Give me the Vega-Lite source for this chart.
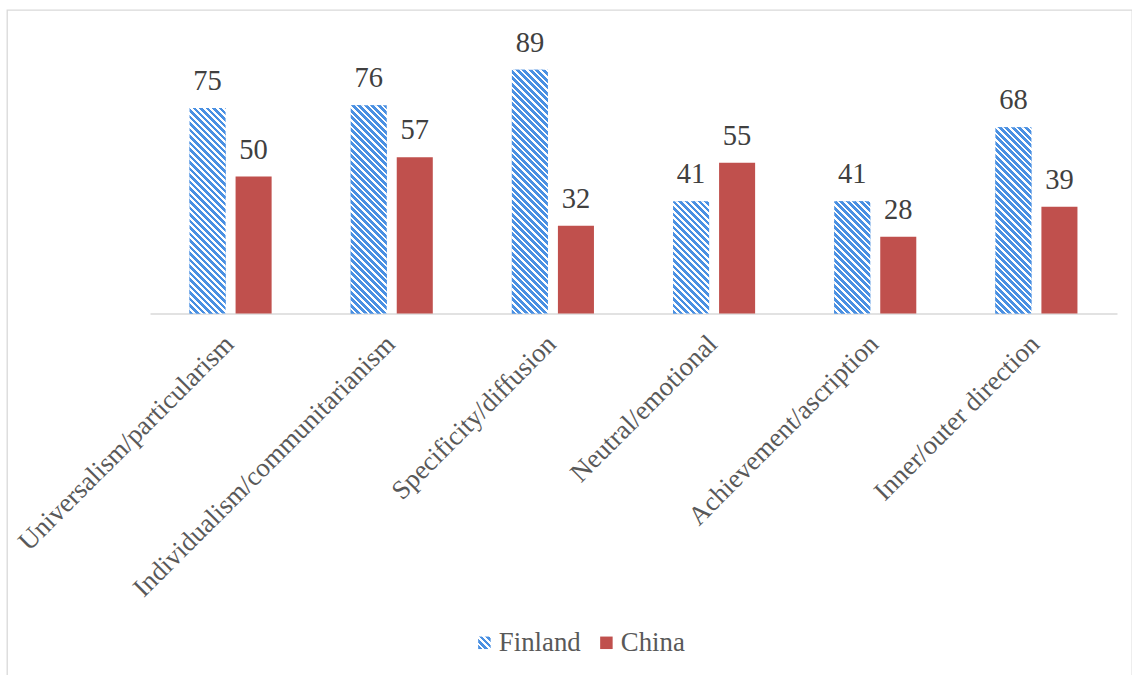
{
  "$schema": "https://vega.github.io/schema/vega-lite/v6.json",
  "width": 1125,
  "height": 666,
  "autosize": {"type": "none"},
  "padding": {"left": 7, "top": 10, "right": 0, "bottom": 0},
  "background": "white",
  "params": [
    {"name": "hatch", "value": [
      {"offset":0,"color":"#4a90e2"},{"offset":0.012,"color":"#4a90e2"},{"offset":0.012,"color":"#fff"},{"offset":0.02,"color":"#fff"},
      {"offset":0.02,"color":"#4a90e2"},{"offset":0.032,"color":"#4a90e2"},{"offset":0.032,"color":"#fff"},{"offset":0.04,"color":"#fff"},
      {"offset":0.04,"color":"#4a90e2"},{"offset":0.052,"color":"#4a90e2"},{"offset":0.052,"color":"#fff"},{"offset":0.06,"color":"#fff"},
      {"offset":0.06,"color":"#4a90e2"},{"offset":0.072,"color":"#4a90e2"},{"offset":0.072,"color":"#fff"},{"offset":0.08,"color":"#fff"},
      {"offset":0.08,"color":"#4a90e2"},{"offset":0.092,"color":"#4a90e2"},{"offset":0.092,"color":"#fff"},{"offset":0.1,"color":"#fff"},
      {"offset":0.1,"color":"#4a90e2"},{"offset":0.112,"color":"#4a90e2"},{"offset":0.112,"color":"#fff"},{"offset":0.12,"color":"#fff"},
      {"offset":0.12,"color":"#4a90e2"},{"offset":0.132,"color":"#4a90e2"},{"offset":0.132,"color":"#fff"},{"offset":0.14,"color":"#fff"},
      {"offset":0.14,"color":"#4a90e2"},{"offset":0.152,"color":"#4a90e2"},{"offset":0.152,"color":"#fff"},{"offset":0.16,"color":"#fff"},
      {"offset":0.16,"color":"#4a90e2"},{"offset":0.172,"color":"#4a90e2"},{"offset":0.172,"color":"#fff"},{"offset":0.18,"color":"#fff"},
      {"offset":0.18,"color":"#4a90e2"},{"offset":0.192,"color":"#4a90e2"},{"offset":0.192,"color":"#fff"},{"offset":0.2,"color":"#fff"},
      {"offset":0.2,"color":"#4a90e2"},{"offset":0.212,"color":"#4a90e2"},{"offset":0.212,"color":"#fff"},{"offset":0.22,"color":"#fff"},
      {"offset":0.22,"color":"#4a90e2"},{"offset":0.232,"color":"#4a90e2"},{"offset":0.232,"color":"#fff"},{"offset":0.24,"color":"#fff"},
      {"offset":0.24,"color":"#4a90e2"},{"offset":0.252,"color":"#4a90e2"},{"offset":0.252,"color":"#fff"},{"offset":0.26,"color":"#fff"},
      {"offset":0.26,"color":"#4a90e2"},{"offset":0.272,"color":"#4a90e2"},{"offset":0.272,"color":"#fff"},{"offset":0.28,"color":"#fff"},
      {"offset":0.28,"color":"#4a90e2"},{"offset":0.292,"color":"#4a90e2"},{"offset":0.292,"color":"#fff"},{"offset":0.3,"color":"#fff"},
      {"offset":0.3,"color":"#4a90e2"},{"offset":0.312,"color":"#4a90e2"},{"offset":0.312,"color":"#fff"},{"offset":0.32,"color":"#fff"},
      {"offset":0.32,"color":"#4a90e2"},{"offset":0.332,"color":"#4a90e2"},{"offset":0.332,"color":"#fff"},{"offset":0.34,"color":"#fff"},
      {"offset":0.34,"color":"#4a90e2"},{"offset":0.352,"color":"#4a90e2"},{"offset":0.352,"color":"#fff"},{"offset":0.36,"color":"#fff"},
      {"offset":0.36,"color":"#4a90e2"},{"offset":0.372,"color":"#4a90e2"},{"offset":0.372,"color":"#fff"},{"offset":0.38,"color":"#fff"},
      {"offset":0.38,"color":"#4a90e2"},{"offset":0.392,"color":"#4a90e2"},{"offset":0.392,"color":"#fff"},{"offset":0.4,"color":"#fff"},
      {"offset":0.4,"color":"#4a90e2"},{"offset":0.412,"color":"#4a90e2"},{"offset":0.412,"color":"#fff"},{"offset":0.42,"color":"#fff"},
      {"offset":0.42,"color":"#4a90e2"},{"offset":0.432,"color":"#4a90e2"},{"offset":0.432,"color":"#fff"},{"offset":0.44,"color":"#fff"},
      {"offset":0.44,"color":"#4a90e2"},{"offset":0.452,"color":"#4a90e2"},{"offset":0.452,"color":"#fff"},{"offset":0.46,"color":"#fff"},
      {"offset":0.46,"color":"#4a90e2"},{"offset":0.472,"color":"#4a90e2"},{"offset":0.472,"color":"#fff"},{"offset":0.48,"color":"#fff"},
      {"offset":0.48,"color":"#4a90e2"},{"offset":0.492,"color":"#4a90e2"},{"offset":0.492,"color":"#fff"},{"offset":0.5,"color":"#fff"},
      {"offset":0.5,"color":"#4a90e2"},{"offset":0.512,"color":"#4a90e2"},{"offset":0.512,"color":"#fff"},{"offset":0.52,"color":"#fff"},
      {"offset":0.52,"color":"#4a90e2"},{"offset":0.532,"color":"#4a90e2"},{"offset":0.532,"color":"#fff"},{"offset":0.54,"color":"#fff"},
      {"offset":0.54,"color":"#4a90e2"},{"offset":0.552,"color":"#4a90e2"},{"offset":0.552,"color":"#fff"},{"offset":0.56,"color":"#fff"},
      {"offset":0.56,"color":"#4a90e2"},{"offset":0.572,"color":"#4a90e2"},{"offset":0.572,"color":"#fff"},{"offset":0.58,"color":"#fff"},
      {"offset":0.58,"color":"#4a90e2"},{"offset":0.592,"color":"#4a90e2"},{"offset":0.592,"color":"#fff"},{"offset":0.6,"color":"#fff"},
      {"offset":0.6,"color":"#4a90e2"},{"offset":0.612,"color":"#4a90e2"},{"offset":0.612,"color":"#fff"},{"offset":0.62,"color":"#fff"},
      {"offset":0.62,"color":"#4a90e2"},{"offset":0.632,"color":"#4a90e2"},{"offset":0.632,"color":"#fff"},{"offset":0.64,"color":"#fff"},
      {"offset":0.64,"color":"#4a90e2"},{"offset":0.652,"color":"#4a90e2"},{"offset":0.652,"color":"#fff"},{"offset":0.66,"color":"#fff"},
      {"offset":0.66,"color":"#4a90e2"},{"offset":0.672,"color":"#4a90e2"},{"offset":0.672,"color":"#fff"},{"offset":0.68,"color":"#fff"},
      {"offset":0.68,"color":"#4a90e2"},{"offset":0.692,"color":"#4a90e2"},{"offset":0.692,"color":"#fff"},{"offset":0.7,"color":"#fff"},
      {"offset":0.7,"color":"#4a90e2"},{"offset":0.712,"color":"#4a90e2"},{"offset":0.712,"color":"#fff"},{"offset":0.72,"color":"#fff"},
      {"offset":0.72,"color":"#4a90e2"},{"offset":0.732,"color":"#4a90e2"},{"offset":0.732,"color":"#fff"},{"offset":0.74,"color":"#fff"},
      {"offset":0.74,"color":"#4a90e2"},{"offset":0.752,"color":"#4a90e2"},{"offset":0.752,"color":"#fff"},{"offset":0.76,"color":"#fff"},
      {"offset":0.76,"color":"#4a90e2"},{"offset":0.772,"color":"#4a90e2"},{"offset":0.772,"color":"#fff"},{"offset":0.78,"color":"#fff"},
      {"offset":0.78,"color":"#4a90e2"},{"offset":0.792,"color":"#4a90e2"},{"offset":0.792,"color":"#fff"},{"offset":0.8,"color":"#fff"},
      {"offset":0.8,"color":"#4a90e2"},{"offset":0.812,"color":"#4a90e2"},{"offset":0.812,"color":"#fff"},{"offset":0.82,"color":"#fff"},
      {"offset":0.82,"color":"#4a90e2"},{"offset":0.832,"color":"#4a90e2"},{"offset":0.832,"color":"#fff"},{"offset":0.84,"color":"#fff"},
      {"offset":0.84,"color":"#4a90e2"},{"offset":0.852,"color":"#4a90e2"},{"offset":0.852,"color":"#fff"},{"offset":0.86,"color":"#fff"},
      {"offset":0.86,"color":"#4a90e2"},{"offset":0.872,"color":"#4a90e2"},{"offset":0.872,"color":"#fff"},{"offset":0.88,"color":"#fff"},
      {"offset":0.88,"color":"#4a90e2"},{"offset":0.892,"color":"#4a90e2"},{"offset":0.892,"color":"#fff"},{"offset":0.9,"color":"#fff"},
      {"offset":0.9,"color":"#4a90e2"},{"offset":0.912,"color":"#4a90e2"},{"offset":0.912,"color":"#fff"},{"offset":0.92,"color":"#fff"},
      {"offset":0.92,"color":"#4a90e2"},{"offset":0.932,"color":"#4a90e2"},{"offset":0.932,"color":"#fff"},{"offset":0.94,"color":"#fff"},
      {"offset":0.94,"color":"#4a90e2"},{"offset":0.952,"color":"#4a90e2"},{"offset":0.952,"color":"#fff"},{"offset":0.96,"color":"#fff"},
      {"offset":0.96,"color":"#4a90e2"},{"offset":0.972,"color":"#4a90e2"},{"offset":0.972,"color":"#fff"},{"offset":0.98,"color":"#fff"},
      {"offset":0.98,"color":"#4a90e2"},{"offset":0.992,"color":"#4a90e2"},{"offset":0.992,"color":"#fff"},{"offset":1,"color":"#fff"}
    ]}
  ],
  "config": {
    "view": {"stroke": "#d9d9d9", "strokeWidth": 1.3},
    "font": "Liberation Serif"
  },
  "data": {
    "values": [
      {"Dimension": "Universalism/particularism", "Country": "Finland", "Score": 75},
      {"Dimension": "Universalism/particularism", "Country": "China", "Score": 50},
      {"Dimension": "Individualism/communitarianism", "Country": "Finland", "Score": 76},
      {"Dimension": "Individualism/communitarianism", "Country": "China", "Score": 57},
      {"Dimension": "Specificity/diffusion", "Country": "Finland", "Score": 89},
      {"Dimension": "Specificity/diffusion", "Country": "China", "Score": 32},
      {"Dimension": "Neutral/emotional", "Country": "Finland", "Score": 41},
      {"Dimension": "Neutral/emotional", "Country": "China", "Score": 55},
      {"Dimension": "Achievement/ascription", "Country": "Finland", "Score": 41},
      {"Dimension": "Achievement/ascription", "Country": "China", "Score": 28},
      {"Dimension": "Inner/outer direction", "Country": "Finland", "Score": 68},
      {"Dimension": "Inner/outer direction", "Country": "China", "Score": 39}
    ]
  },
  "encoding": {
    "x": {
      "field": "Dimension", "type": "nominal", "sort": null,
      "scale": {"range": [143, 1110], "paddingInner": 0, "paddingOuter": 0},
      "axis": {
        "orient": "bottom", "offset": -362.5, "title": null,
        "domainColor": "#d9d9d9", "domainWidth": 1.5,
        "ticks": false, "tickSize": 0, "grid": false,
        "labelAngle": -45, "labelAlign": "right", "labelBaseline": "middle",
        "labelFont": "Liberation Serif", "labelFontSize": 26.8, "labelColor": "#595959",
        "labelPadding": 26, "labelOffset": -1, "labelLimit": 500, "labelOverlap": false
      }
    },
    "xOffset": {
      "field": "Country", "type": "nominal", "sort": ["Finland", "China"],
      "scale": {"paddingInner": 0.217, "paddingOuter": 0.859}
    },
    "y": {
      "field": "Score", "type": "quantitative",
      "scale": {"domain": [-132.3, 110.77], "nice": false, "zero": false},
      "axis": null
    }
  },
  "layer": [
    {
      "mark": {"type": "bar"},
      "encoding": {
        "y2": {"datum": 0},
        "fill": {
          "field": "Country", "type": "nominal", "sort": ["Finland", "China"],
          "scale": {"domain": ["Finland", "China"], "range": [{"expr": "{gradient:'linear',x1:0,y1:1,x2:13,y2:-12,stops:hatch}"}, "#c0504d"]},
          "legend": {
            "orient": "none", "legendX": 464, "legendY": 619, "direction": "horizontal",
            "title": null, "padding": 0,
            "symbolType": "square", "symbolSize": 156, "symbolStrokeWidth": 0,
            "labelFont": "Liberation Serif", "labelFontSize": 26.8, "labelColor": "#595959",
            "labelOffset": 1, "columnPadding": 12
          }
        }
      }
    },
    {
      "transform": [{"filter": "datum.Country === 'Finland'"}],
      "mark": {
        "type": "bar",
        "fill": {"expr": "{gradient:'linear',x1:0,y1:1,x2:11700/(1296+pow(scale('y',0)-scale('y',datum.Score),2)),y2:1-325*(scale('y',0)-scale('y',datum.Score))/(1296+pow(scale('y',0)-scale('y',datum.Score),2)),stops:hatch}"}
      },
      "encoding": {"y2": {"datum": 0}}
    },
    {
      "mark": {"type": "text", "baseline": "alphabetic", "dy": -18, "font": "Liberation Serif", "fontSize": 28.5, "color": "#404040"},
      "encoding": {"text": {"field": "Score", "type": "quantitative"}}
    }
  ]
}
